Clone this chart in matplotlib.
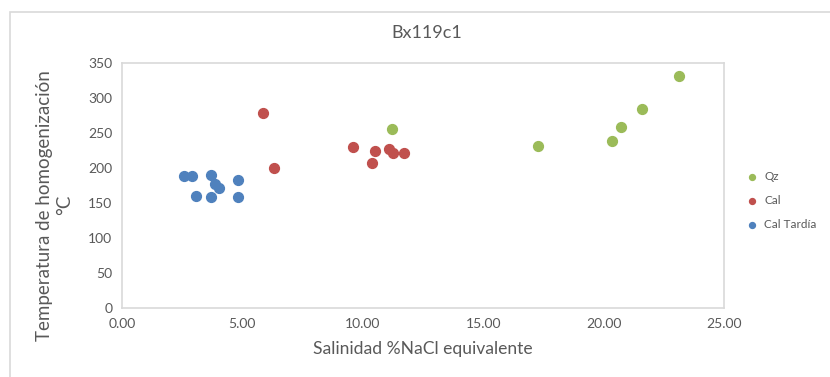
import matplotlib.pyplot as plt
from matplotlib.patches import Rectangle

plt.rcParams['font.family'] = ['Lato', 'DejaVu Sans']

# Qz
qz_x = [11.23, 17.28, 20.35, 20.72, 21.58, 23.14]
qz_y = [256, 232, 239, 259, 284, 332]

# Cal
cal_x = [5.87, 6.30, 9.61, 10.51, 10.40, 11.10, 11.24, 11.71]
cal_y = [279, 200, 230, 224, 207, 227, 221, 222]

# Cal Tardía
tard_x = [2.57, 2.91, 3.71, 4.82, 3.87, 4.03, 3.07, 3.71, 4.82]
tard_y = [189, 189, 190, 183, 177, 172, 160, 159, 159]

x_ticks = [0, 5, 10, 15, 20, 25]
y_ticks = [0, 50, 100, 150, 200, 250, 300, 350]

text_col = '#595959'
grey = '#D9D9D9'

fig = plt.figure(figsize=(8.3, 3.77), dpi=100)
# outer chart frame
fig.patches.append(Rectangle((10 / 830, -0.05), 1.2, 1 - 12 / 377 + 0.05,
                             transform=fig.transFigure, fill=False,
                             edgecolor=grey, linewidth=1.2))

ax = fig.add_axes([122 / 830, 1 - 308 / 377, 602 / 830, 245 / 377])
ax.scatter(qz_x, qz_y, s=50, color='#9BBB59', label='Qz', zorder=3)
ax.scatter(cal_x, cal_y, s=50, color='#C0504D', label='Cal', zorder=3)
ax.scatter(tard_x, tard_y, s=50, color='#4F81BD', label='Cal Tardía', zorder=3)

ax.set_xlim(0, 25)
ax.set_ylim(0, 350)
ax.set_xticks(x_ticks)
ax.set_xticklabels(['%.2f' % v for v in x_ticks])
ax.set_yticks(y_ticks)
ax.tick_params(length=0, labelsize=10, colors=text_col, pad=7)
for s in ax.spines.values():
    s.set_color(grey)
    s.set_linewidth(1.2)

fig.text(427 / 830, 1 - 33 / 377, 'Bx119c1', ha='center', va='center',
         fontsize=13, color=text_col)
ax.set_xlabel('Salinidad %NaCl equivalente', fontsize=12.6, color=text_col, labelpad=8)
ax.set_ylabel('Temperatura de homogenización\n°C', fontsize=13.5, color=text_col,
              linespacing=1.2)
ax.yaxis.set_label_coords(-0.082, 0.42)

ax.legend(loc='center left', bbox_to_anchor=(1.01, 0.44), frameon=False,
          fontsize=8.5, labelcolor=text_col, handletextpad=0.0,
          markerscale=0.6, labelspacing=1.1)

fig.savefig('out.png', dpi=100)
